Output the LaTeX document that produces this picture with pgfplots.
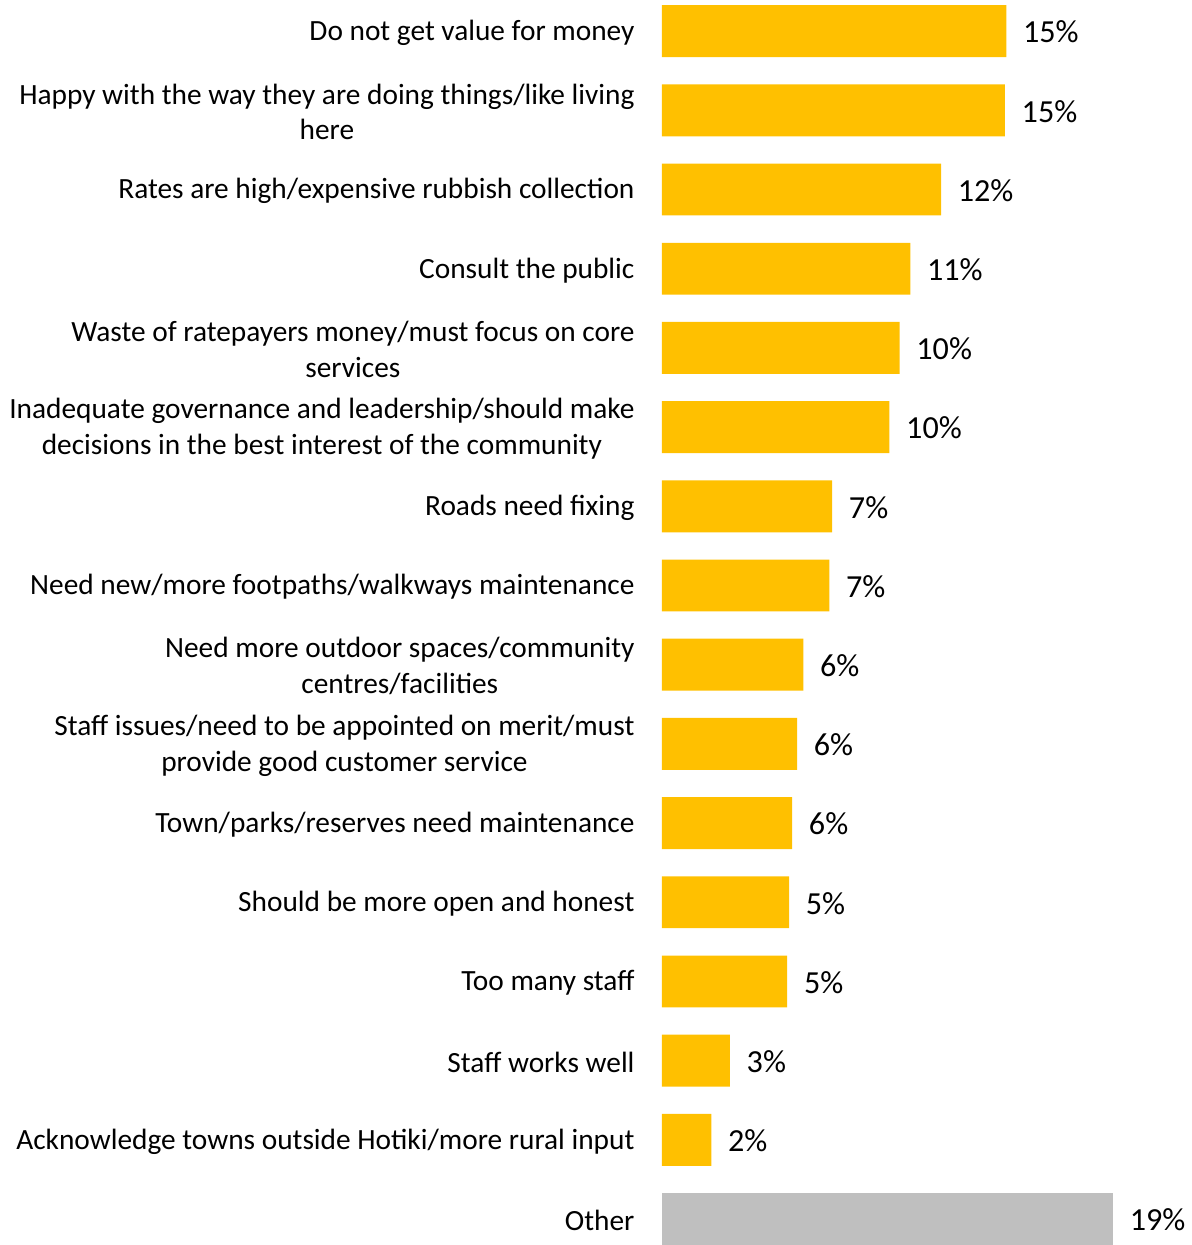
\documentclass[border=0pt]{standalone}
\usepackage{pgfplots}
\pgfplotsset{compat=1.18}
\usepackage{pgfplotstable}
\usepackage{fontspec}
\setmainfont{Carlito}
\definecolor{baryellow}{HTML}{FFC000}
\definecolor{bargray}{HTML}{BFBFBF}

\pgfplotstableread{
i v lab
0 14.56 15
1 14.50 15
2 11.80 12
3 10.50 11
4 10.05 10
5 9.62 10
6 7.20 7
7 7.08 7
8 5.98 6
9 5.72 6
10 5.51 6
11 5.38 5
12 5.30 5
13 2.88 3
14 2.09 2
}\mainTable
\pgfplotstableread{
i v lab
15 19.07 19
}\otherTable

\begin{document}
\begin{tikzpicture}
\begin{axis}[
  scale only axis, width=265.5pt, height=622.5pt,
  xmin=0, xmax=22.4, ymin=-0.393, ymax=15.30, y dir=reverse,
  xbar, bar width=26pt, bar shift=0pt,
  axis line style={draw=none},
  xtick=\empty,
  ytick={0,1,...,15},
  yticklabels={
    {Do not get value for money},
    {Happy with the way they are doing things/like living\\here},
    {Rates are high/expensive rubbish collection},
    {Consult the public},
    {Waste of ratepayers money/must focus on core\\services},
    {Inadequate governance and leadership/should make\\decisions in the best interest of the community},
    {Roads need fixing},
    {Need new/more footpaths/walkways maintenance},
    {Need more outdoor spaces/community\\centres/facilities},
    {Staff issues/need to be appointed on merit/must\\provide good customer service},
    {Town/parks/reserves need maintenance},
    {Should be more open and honest},
    {Too many staff},
    {Staff works well},
    {Acknowledge towns outside Hotiki/more rural input},
    {Other}},
  major tick length=0pt,
  tick style={draw=none},
  yticklabel style={font=\fontsize{14.7}{18}\selectfont, align=center, anchor=east, inner sep=0pt, xshift=-13.5pt, yshift=-0.8pt},
  point meta=explicit symbolic,
  nodes near coords={\pgfplotspointmeta\%},
  every node near coord/.append style={anchor=west, inner sep=0pt, xshift=8.2pt, yshift=-0.5pt, font=\fontsize{16.1}{18}\selectfont, text=black},
  clip=false,
]
\addplot[fill=baryellow, draw=none] table[x=v, y=i, meta=lab] {\mainTable};
\addplot[fill=bargray, draw=none] table[x=v, y=i, meta=lab] {\otherTable};
\end{axis}
\path ([xshift=-331.5pt]current axis.north west) rectangle (current axis.south east);
\end{tikzpicture}
\end{document}
